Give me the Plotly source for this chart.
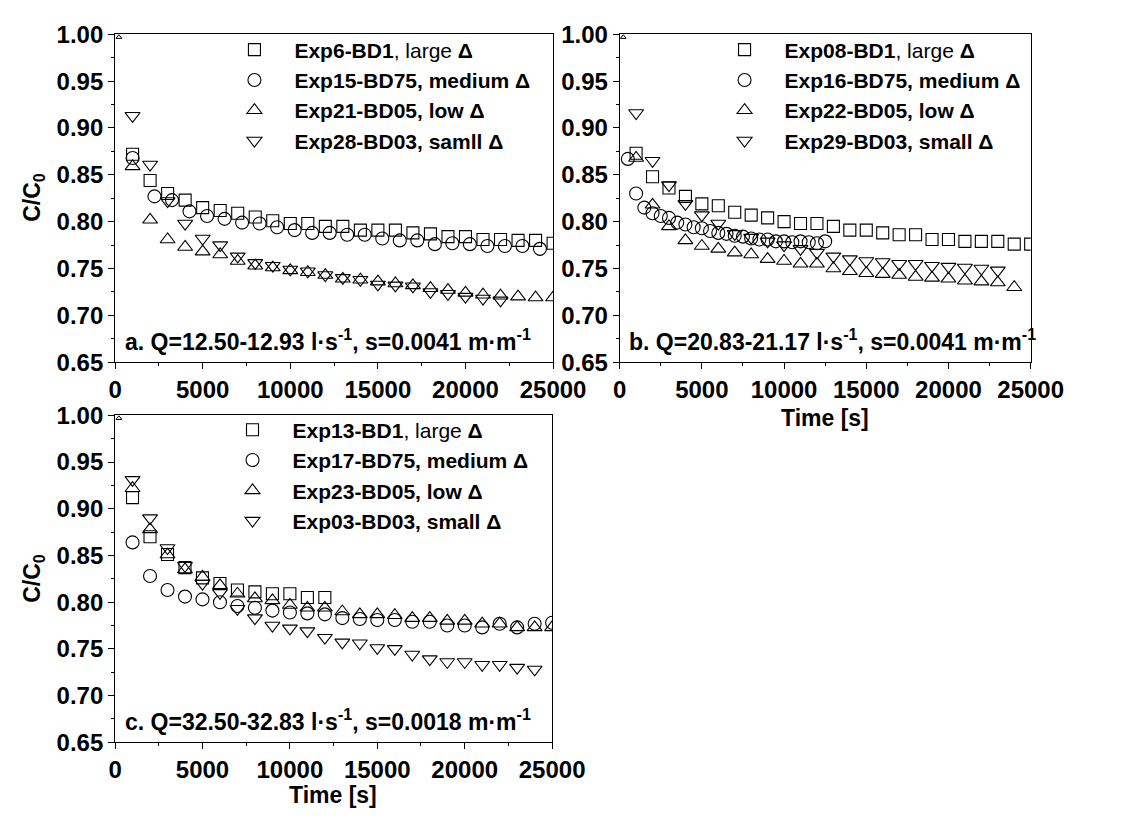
import plotly.graph_objects as go

# ---------------- data ----------------
# Panel a
t_a = [1000 * k for k in range(1, 26)]
sq_a = [0.872, 0.844, 0.830, 0.823, 0.815, 0.812, 0.809, 0.805, 0.801, 0.798, 0.798, 0.795, 0.795,
        0.791, 0.791, 0.791, 0.788, 0.787, 0.784, 0.784, 0.781, 0.781, 0.780, 0.780, 0.777]
t_circ_a = [1000, 2250, 3250, 4250, 5250, 6250, 7250, 8250, 9250, 10250, 11250, 12250, 13250,
            14250, 15250, 16250, 17250, 18250, 19250, 20250, 21250, 22250, 23250, 24250]
circ_a = [0.868, 0.827, 0.823, 0.811, 0.806, 0.803, 0.799, 0.798, 0.794, 0.791, 0.788, 0.788, 0.786,
          0.786, 0.782, 0.780, 0.780, 0.776, 0.777, 0.776, 0.774, 0.774, 0.774, 0.771]
up_a = [0.859, 0.802, 0.781, 0.773, 0.768, 0.765, 0.758, 0.753, 0.751, 0.748, 0.746, 0.743, 0.739,
        0.738, 0.736, 0.734, 0.732, 0.729, 0.727, 0.724, 0.722, 0.721, 0.720, 0.719, 0.719]
t_dn_a = [1000 * k for k in range(1, 23)]
dn_a = [0.913, 0.861, 0.822, 0.798, 0.782, 0.775, 0.763, 0.756, 0.753, 0.749, 0.747, 0.743, 0.740,
        0.738, 0.733, 0.732, 0.731, 0.725, 0.723, 0.720, 0.718, 0.716]

# Panel b
t_b = [1000 * k for k in range(1, 26)]
sq_b = [0.873, 0.848, 0.836, 0.827, 0.819, 0.817, 0.810, 0.807, 0.804, 0.800, 0.798, 0.798, 0.795,
        0.791, 0.791, 0.788, 0.786, 0.786, 0.781, 0.781, 0.779, 0.779, 0.779, 0.776, 0.776]
t_circ_b = [500 * k for k in range(1, 26)]
circ_b = [0.867, 0.830, 0.815, 0.809, 0.806, 0.804, 0.799, 0.797, 0.794, 0.793, 0.790, 0.788, 0.787,
          0.785, 0.784, 0.782, 0.781, 0.781, 0.779, 0.779, 0.778, 0.779, 0.778, 0.777, 0.779]
t_up_b = [1000 * k for k in range(1, 25)]
up_b = [0.868, 0.818, 0.795, 0.780, 0.774, 0.771, 0.767, 0.765, 0.760, 0.758, 0.755, 0.755, 0.750,
        0.747, 0.745, 0.744, 0.743, 0.741, 0.740, 0.739, 0.737, 0.736, 0.735, 0.730]
t_dn_b = [1000 * k for k in range(1, 24)]
dn_b = [0.916, 0.865, 0.839, 0.819, 0.807, 0.798, 0.787, 0.783, 0.779, 0.775, 0.771, 0.767, 0.763,
        0.760, 0.758, 0.757, 0.755, 0.755, 0.753, 0.752, 0.751, 0.750, 0.748]

# Panel c
t_sq_c = [1000 * k for k in range(1, 13)]
sq_c = [0.912, 0.870, 0.851, 0.837, 0.826, 0.820, 0.813, 0.811, 0.809, 0.809, 0.805, 0.805]
t_c = [1000 * k for k in range(1, 26)]
circ_c = [0.864, 0.828, 0.813, 0.806, 0.803, 0.800, 0.796, 0.794, 0.791, 0.789, 0.788, 0.787, 0.783,
          0.782, 0.781, 0.781, 0.779, 0.779, 0.775, 0.775, 0.773, 0.777, 0.773, 0.777, 0.778]
up_c = [0.922, 0.878, 0.851, 0.835, 0.827, 0.818, 0.809, 0.804, 0.802, 0.797, 0.794, 0.794, 0.790,
        0.787, 0.787, 0.786, 0.783, 0.783, 0.780, 0.780, 0.777, 0.777, 0.773, 0.773, 0.773]
t_dn_c = [1000 * k for k in range(1, 25)]
dn_c = [0.931, 0.890, 0.858, 0.839, 0.820, 0.810, 0.793, 0.783, 0.775, 0.772, 0.769, 0.762, 0.757,
        0.756, 0.751, 0.750, 0.744, 0.739, 0.736, 0.736, 0.733, 0.733, 0.730, 0.728]

# initial point (t=0) mark
t0 = [220]
c0 = [0.997]

names_a = ["<b>Exp6-BD1</b>, large <b>Δ</b>", "<b>Exp15-BD75, medium Δ</b>",
           "<b>Exp21-BD05, low Δ</b>", "<b>Exp28-BD03, samll Δ</b>"]
names_b = ["<b>Exp08-BD1</b>, large <b>Δ</b>", "<b>Exp16-BD75, medium Δ</b>",
           "<b>Exp22-BD05, low Δ</b>", "<b>Exp29-BD03, small Δ</b>"]
names_c = ["<b>Exp13-BD1</b>, large <b>Δ</b>", "<b>Exp17-BD75, medium Δ</b>",
           "<b>Exp23-BD05, low Δ</b>", "<b>Exp03-BD03, small Δ</b>"]

notes = ["a. Q=12.50-12.93 l·s<sup>-1</sup>, s=0.0041 m·m<sup>-1</sup>",
         "b. Q=20.83-21.17 l·s<sup>-1</sup>, s=0.0041 m·m<sup>-1</sup>",
         "c. Q=32.50-32.83 l·s<sup>-1</sup>, s=0.0018 m·m<sup>-1</sup>"]

# ---------------- figure ----------------
W, H = 1137, 823
FONT = "Liberation Sans, Arial, Helvetica, sans-serif"

fig = go.Figure()

symbols = ["square-open", "circle-open", "triangle-up-open", "triangle-down-open"]
sizes = [12, 13, 13, 13]

panels = [
    ("x", "y", "legend", names_a,
     [(t_a, sq_a), (t_circ_a, circ_a), (t_a, up_a), (t_dn_a, dn_a)]),
    ("x2", "y2", "legend2", names_b,
     [(t_b, sq_b), (t_circ_b, circ_b), (t_up_b, up_b), (t_dn_b, dn_b)]),
    ("x3", "y3", "legend3", names_c,
     [(t_sq_c, sq_c), (t_c, circ_c), (t_c, up_c), (t_dn_c, dn_c)]),
]

for xa, ya, lg, names, series in panels:
    for (tx, vy), nm, sym, sz in zip(series, names, symbols, sizes):
        fig.add_trace(go.Scatter(
            x=tx, y=vy, mode="markers", name=nm, legend=lg,
            xaxis=xa, yaxis=ya,
            marker=dict(symbol=sym, size=sz, color="black", line=dict(width=1.1, color="black")),
        ))
    fig.add_trace(go.Scatter(
        x=t0, y=c0, mode="markers", showlegend=False, xaxis=xa, yaxis=ya,
        marker=dict(symbol="triangle-up-open", size=5, color="black", line=dict(width=1, color="black")),
    ))

def px_x(p):
    return p / W

def px_y(p):
    return 1 - p / H

TICKSIZE = 24
common_x = dict(range=[0, 25000], tick0=0, dtick=5000, tickformat="d", ticks="outside", ticklen=6,
                tickwidth=1, tickcolor="black", showline=True, linecolor="black", linewidth=1,
                mirror=True, showgrid=False, zeroline=False,
                minor=dict(dtick=2500, ticks="outside", ticklen=3, tickcolor="black", tickwidth=1),
                tickfont=dict(family=FONT, size=TICKSIZE, color="black", weight="bold"))
common_y = dict(range=[0.65, 1.0], tick0=0.65, dtick=0.05, tickformat=".2f", ticks="outside", ticklen=6,
                tickwidth=1, tickcolor="black", showline=True, linecolor="black", linewidth=1,
                mirror=True, showgrid=False, zeroline=False,
                minor=dict(dtick=0.025, ticks="outside", ticklen=3, tickcolor="black", tickwidth=1),
                tickfont=dict(family=FONT, size=TICKSIZE, color="black", weight="bold"))

fig.update_layout(
    xaxis=dict(domain=[px_x(112), px_x(566)], anchor="y", **common_x),
    yaxis=dict(domain=[px_y(360), px_y(21)], anchor="x", **common_y),
    xaxis2=dict(domain=[px_x(635), px_x(1061)], anchor="y2", **common_x),
    yaxis2=dict(domain=[px_y(360), px_y(21)], anchor="x2", **common_y),
    xaxis3=dict(domain=[px_x(112), px_x(565)], anchor="y3", **common_x),
    yaxis3=dict(domain=[px_y(753), px_y(415)], anchor="x3", **common_y),
)

leg_common = dict(bgcolor="rgba(0,0,0,0)", borderwidth=0, xanchor="left", yanchor="top",
                  font=dict(family=FONT, size=21, color="black"), tracegroupgap=0,
                  itemsizing="trace", itemwidth=70)
fig.update_layout(
    legend=dict(x=px_x(215), y=px_y(16), **leg_common),
    legend2=dict(x=px_x(723), y=px_y(16), **leg_common),
    legend3=dict(x=px_x(213), y=px_y(409), **leg_common),
)

annos = []
for xr, yr, txt, ylev in [("x", "y", notes[0], 0.674), ("x2", "y2", notes[1], 0.674), ("x3", "y3", notes[2], 0.674)]:
    annos.append(dict(x=450, y=ylev, xref=xr, yref=yr, text="<b>" + txt + "</b>", showarrow=False,
                      xanchor="left", yanchor="middle",
                      font=dict(family=FONT, size=23, color="black")))
# axis titles
annos.append(dict(x=px_x(28), y=px_y(190), xref="paper", yref="paper", text="<b>C/C<sub>0</sub></b>",
                  textangle=-90, showarrow=False, xanchor="center", yanchor="middle",
                  font=dict(family=FONT, size=23, color="black")))
annos.append(dict(x=px_x(28), y=px_y(584), xref="paper", yref="paper", text="<b>C/C<sub>0</sub></b>",
                  textangle=-90, showarrow=False, xanchor="center", yanchor="middle",
                  font=dict(family=FONT, size=23, color="black")))
annos.append(dict(x=px_x(848), y=px_y(418), xref="paper", yref="paper", text="<b>Time [s]</b>",
                  showarrow=False, xanchor="center", yanchor="middle",
                  font=dict(family=FONT, size=23, color="black")))
annos.append(dict(x=px_x(338), y=px_y(807), xref="paper", yref="paper", text="<b>Time [s]</b>",
                  showarrow=False, xanchor="center", yanchor="middle",
                  font=dict(family=FONT, size=23, color="black")))

fig.update_layout(
    width=W, height=H, margin=dict(l=0, r=0, t=0, b=0),
    paper_bgcolor="white", plot_bgcolor="white",
    annotations=annos, font=dict(family=FONT, color="black"),
)

fig.write_html("out.html")
